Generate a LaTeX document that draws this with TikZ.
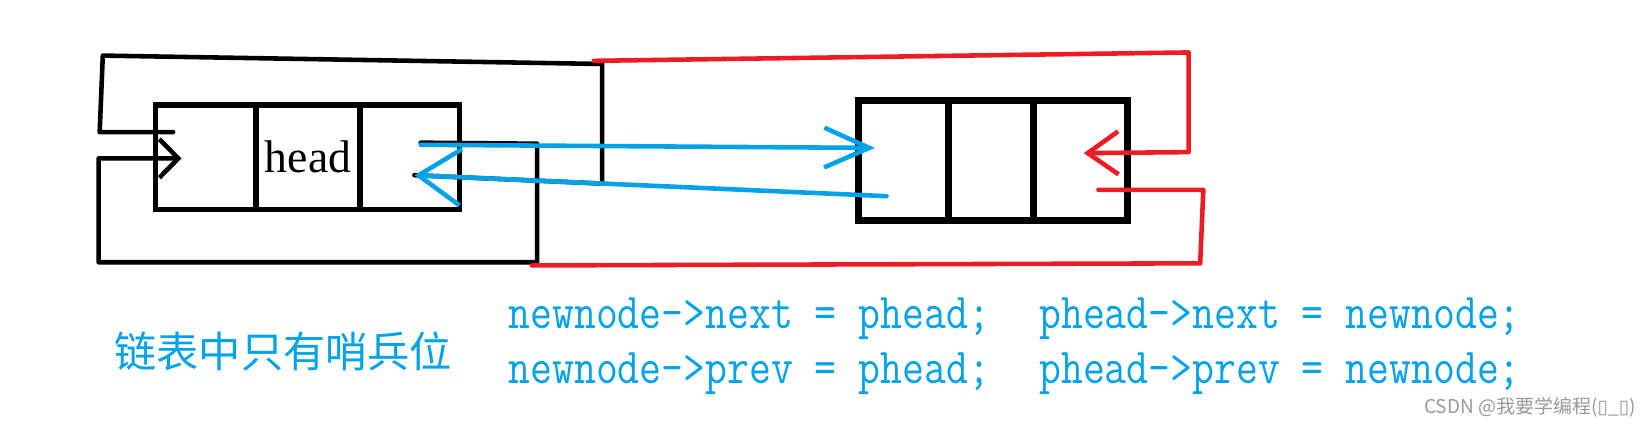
\documentclass[tikz,border=0pt]{standalone}
\usepackage{fontspec}
\setmainfont{Liberation Serif}
\newfontfamily\cjk{Noto Sans CJK SC}
\newfontfamily\symbfont{DejaVu Sans}
\usepackage{xcolor}
\usetikzlibrary{arrows.meta, positioning}
\definecolor{paintblue}{HTML}{00A2E8}
\definecolor{paintred}{HTML}{ED1C24}

\begin{document}
\begin{tikzpicture}[x=0.01049cm, y=-0.01049cm]
    \tikzstyle{cell} = [rectangle, draw=black, outer sep=0pt, inner sep=0pt, line width=1.5pt, minimum height=1.049cm]
    \tikzstyle{newcell} = [cell, line width=2pt, minimum height=1.196cm]
    \tikzstyle{wire} = [line width=1.3pt, line cap=round, line join=round]
    \tikzstyle{code} = [anchor=base west, inner sep=0pt, text=paintblue, font=\fontsize{14.3}{14.3}\selectfont\ttfamily]

    \useasboundingbox (0,0) rectangle (1568,406);

    \node (hprev)[cell, minimum width=1.007cm] at (196,150) {};
    \node (hdata)[cell, right=0pt of hprev, minimum width=1.039cm, font=\fontsize{13}{13}\selectfont]{head};
    \node (hnext)[cell, right=0pt of hdata, minimum width=0.997cm]{};

    \node (nprev)[newcell, minimum width=0.902cm] at (861,153) {};
    \node (ndata)[newcell, right=0pt of nprev, minimum width=0.850cm]{};
    \node (nnext)[newcell, right=0pt of ndata, minimum width=0.944cm]{};

    \coordinate (hprevout) at (165,126);
    \coordinate (hprevin) at (173,151);
    \coordinate (hnextout) at (401,136);
    \coordinate (hnextin) at (395,167);
    \coordinate (nprevin) at (834,141);
    \coordinate (nprevout) at (845,187);
    \coordinate (nnextin) at (1033,146);
    \coordinate (nnextout) at (1047,181);

    % sentinel pointing to itself
    \draw [wire, -{Straight Barb[length=5.4pt, width=11pt]}] (hnextout) -- (512,137) -- (512,250) -- (94,250) -- (94,151) -- (hprevin);
    \draw [wire] (hprevout) -- (95,126) -- (98,53) -- (574,61) -- (574,175) -- (hnextin);

    \draw [wire, paintblue, -{Straight Barb[length=12.8pt, width=11.3pt]}] ([yshift=-0.6pt]hnextout) -- (nprevin);
    \draw [wire, paintblue, -{Straight Barb[length=12pt, width=16pt]}] (nprevout) -- (hnextin);

    \draw [wire, paintred, -{Straight Barb[length=8.7pt, width=12.2pt]}] (566,58) -- (1133,50) -- (1133,145) -- (nnextin);
    \draw [wire, paintred] (nnextout) -- (1147,181) -- (1144,251) -- (507,253);

    \node (caption)[text=paintblue, font=\cjk\fontsize{12}{12}\selectfont] at (270,335) {链表中只有哨兵位};
    \node (code1)[code] at (484,313) {\scalebox{0.845}[1]{newnode->next = phead;}};
    \node (code2)[code] at (484,366) {\scalebox{0.845}[1]{newnode->prev = phead;}};
    \node (code3)[code] at (990,313) {\scalebox{0.845}[1]{phead->next = newnode;}};
    \node (code4)[code] at (990,366) {\scalebox{0.845}[1]{phead->prev = newnode;}};

    \node (mark)[anchor=west, inner sep=0pt, text=black!40, font=\cjk\fontsize{5.4}{6}\selectfont] at (1357,388) {CSDN @我要学编程({\symbfont ▯}\_{\symbfont ▯})};
\end{tikzpicture}
\end{document}
